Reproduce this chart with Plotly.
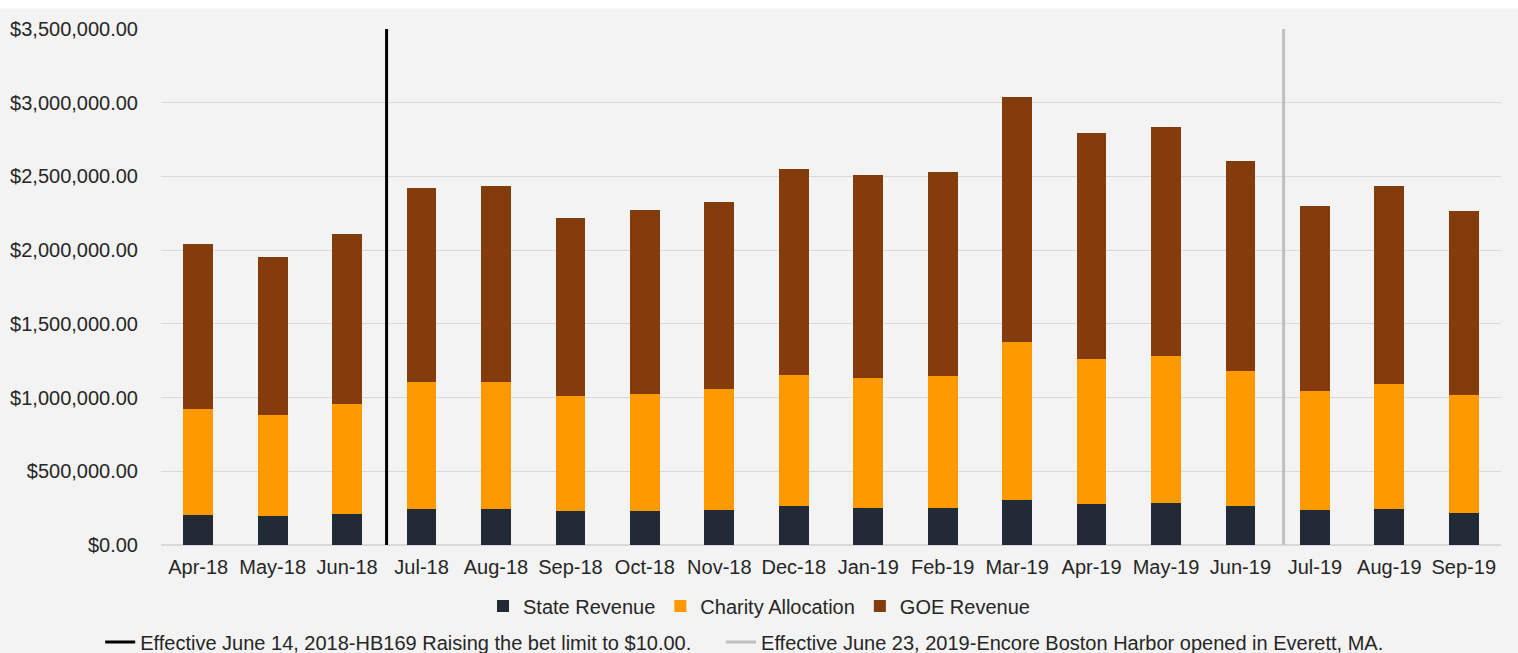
import plotly.graph_objects as go

months = ["Apr-18", "May-18", "Jun-18", "Jul-18", "Aug-18", "Sep-18", "Oct-18", "Nov-18", "Dec-18",
          "Jan-19", "Feb-19", "Mar-19", "Apr-19", "May-19", "Jun-19", "Jul-19", "Aug-19", "Sep-19"]

state_revenue = [206000, 195000, 213000, 247000, 247000, 229000, 229000, 238000, 263000,
                 254000, 254000, 306000, 281000, 288000, 263000, 236000, 245000, 220000]
charity_allocation = [716000, 685000, 745000, 856000, 856000, 779000, 795000, 820000, 890000,
                      881000, 890000, 1069000, 983000, 992000, 917000, 806000, 849000, 797000]
goe_revenue = [1121000, 1074000, 1153000, 1317000, 1333000, 1208000, 1248000, 1267000, 1397000,
               1378000, 1385000, 1667000, 1531000, 1556000, 1426000, 1256000, 1340000, 1247000]

event_labels = ["Effective June 14, 2018-HB169 Raising the bet limit to $10.00.",
                "Effective June 23, 2019-Encore Boston Harbor opened in Everett, MA."]
event_positions = [2.53, 14.58]   # between Jun-18/Jul-18 and Jun-19/Jul-19
event_colors = ["#000000", "#bfbfbf"]
event_legends = ["legend2", "legend3"]

y_max = 3500000
y_ticks = [0, 500000, 1000000, 1500000, 2000000, 2500000, 3000000, 3500000]

FONT = "Liberation Sans, Arial, sans-serif"
TXT = "#262626"

x_idx = list(range(len(months)))

fig = go.Figure()
fig.add_trace(go.Bar(x=x_idx, y=state_revenue, name="State Revenue",
                     marker=dict(color="#222a35", line=dict(width=0))))
fig.add_trace(go.Bar(x=x_idx, y=charity_allocation, name="Charity Allocation",
                     marker=dict(color="#ff9900", line=dict(width=0))))
fig.add_trace(go.Bar(x=x_idx, y=goe_revenue, name="GOE Revenue",
                     marker=dict(color="#843c0c", line=dict(width=0))))

for lbl, pos, col, lg in zip(event_labels, event_positions, event_colors, event_legends):
    fig.add_trace(go.Scatter(x=[pos, pos], y=[0, y_max], mode="lines", name=lbl,
                             line=dict(color=col, width=3), legend=lg,
                             hoverinfo="skip"))

fig.update_layout(
    width=1518, height=653,
    barmode="stack", bargap=0.6,
    paper_bgcolor="#f3f3f3", plot_bgcolor="#f3f3f3",
    margin=dict(l=161, r=17, t=29, b=108, autoexpand=False),
    font=dict(family=FONT, size=20, color=TXT),
    xaxis=dict(range=[-0.5, 17.5], tickvals=x_idx, ticktext=months,
               showgrid=False, zeroline=False, showline=False, ticks="",
               ticklabelstandoff=8, tickfont=dict(size=20, color=TXT),
               automargin=False),
    yaxis=dict(range=[0, y_max], tickvals=y_ticks, tickformat="$,.2f",
               showgrid=True, gridcolor="#d9d9d9", gridwidth=1,
               zeroline=True, zerolinecolor="#d9d9d9", showline=False, ticks="",
               ticklabelstandoff=22, tickfont=dict(size=20, color=TXT),
               automargin=False),
    legend=dict(orientation="h", xref="container", yref="container",
                x=0.5, xanchor="center", y=0.072, yanchor="middle",
                bgcolor="rgba(0,0,0,0)", font=dict(size=20, color=TXT),
                traceorder="normal"),
    legend2=dict(orientation="h", xref="container", yref="container",
                 x=0.066, xanchor="left", y=0.017, yanchor="middle",
                 bgcolor="rgba(0,0,0,0)", font=dict(size=20, color=TXT)),
    legend3=dict(orientation="h", xref="container", yref="container",
                 x=0.475, xanchor="left", y=0.017, yanchor="middle",
                 bgcolor="rgba(0,0,0,0)", font=dict(size=20, color=TXT)),
    shapes=[dict(type="rect", xref="paper", yref="paper",
                 x0=-0.2, x1=1.1, y0=1.0398, y1=1.1,
                 fillcolor="#ffffff", line=dict(width=0), layer="below")],
    showlegend=True,
)

fig.write_html("out.html", config={"displayModeBar": False},
               post_script="document.body.style.margin='0px';")
